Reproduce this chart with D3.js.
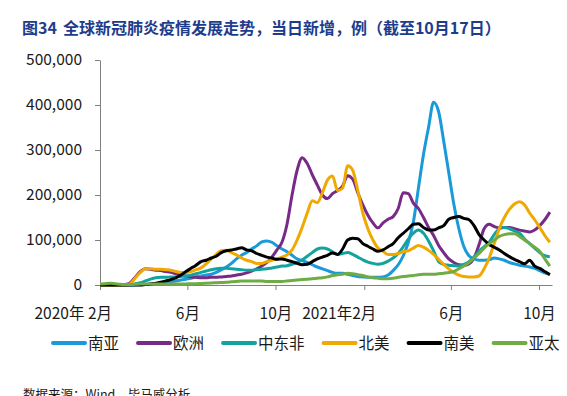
<!DOCTYPE html>
<html>
<head>
<meta charset="utf-8">
<script src="https://cdn.jsdelivr.net/npm/d3@7"></script>
<style>
  body { margin: 0; background: #fff; }
  text { font-family: "Noto Sans CJK SC", "Noto Sans", sans-serif; fill: #1a1a1a; }
</style>
</head>
<body>
<div class="chart"></div>
<script>
// weekly points, Feb 1 2020 -> Oct 16 2021 (daily new cases, thousands)
var weeks = d3.timeDay.range(new Date(2020, 1, 1), new Date(2021, 9, 17), 7);

var seriesNames = ["南亚", "欧洲", "中东非", "北美", "南美", "亚太"];
var seriesColors = ["#1b9ad9", "#772a86", "#13a39f", "#f0a900", "#000000", "#70ac46"];

var southAsia = [
  0, 0, 0, 0, 0, 0, 0, 0.3, 0.8, 1.5,
  2, 3, 4, 5.5, 7, 9, 11, 13, 15, 18,
  20, 22, 24, 28, 34, 40, 48, 58, 66, 72,
  80, 87, 96, 98, 95, 87, 80, 74, 66, 58,
  54, 50, 45, 40, 36, 32, 28, 26, 26, 24,
  21, 19, 18, 17, 17, 17, 18, 22, 32, 45,
  65, 95, 140, 215, 290, 350, 406, 385, 320, 250,
  180, 125, 85, 65, 58, 55, 55, 56, 60, 58,
  55, 50, 47, 44, 42, 40, 37, 32, 27, 23
];
var europe = [
  0, 0, 0, 0, 0.5, 1, 5, 18, 30, 36,
  35, 33, 32, 30, 28, 25, 22, 20, 18, 17,
  16, 16, 17, 17, 18, 19, 20, 22, 24, 27,
  31, 36, 42, 50, 62, 78, 95, 135, 200, 255,
  283, 270, 245, 222, 200, 192, 203, 210, 220, 243,
  235, 205, 178, 155, 138, 127, 138, 146, 152, 170,
  205, 203, 182, 170, 150, 128, 110, 88, 72, 58,
  50, 45, 44, 47, 60, 90, 125, 135, 130, 127,
  128, 128, 125, 122, 120, 118, 122, 132, 145, 162
];
var middleEastAfrica = [
  0, 0, 0, 0, 0, 0, 1, 3, 5, 9,
  13, 16, 17, 17, 18, 18, 19, 20, 22, 25,
  28, 31, 34, 36, 37, 37, 36, 35, 34, 33,
  33, 34, 35, 36, 38, 40, 42, 43, 46, 50,
  56, 64, 72, 80, 82, 80, 74, 68, 70, 72,
  68, 62, 56, 51, 48, 46, 48, 53, 60, 70,
  85, 102, 115, 122, 115, 98, 76, 52, 46, 44,
  43, 42, 46, 52, 62, 75, 85, 95, 112, 125,
  128, 125, 120, 115, 102, 92, 82, 72, 65, 63
];
var northAmerica = [
  0, 0, 0, 0, 0, 0, 3, 16, 28, 36,
  36, 35, 35, 34, 33, 30, 28, 28, 30, 34,
  38, 47, 58, 68, 76, 77, 72, 67, 60, 55,
  52, 48, 48, 52, 55, 58, 62, 67, 78, 100,
  128, 160, 187, 183, 205, 233, 242, 210, 215, 265,
  255, 210, 160, 125, 100, 82, 75, 68, 68, 70,
  74, 76, 82, 88, 84, 77, 68, 57, 46, 36,
  28, 22, 19, 18, 18, 20, 36, 60, 92, 125,
  150, 168, 180, 185, 178, 160, 145, 128, 110, 95
];
var southAmerica = [
  0, 0, 0, 0, 0, 0, 0, 0, 0, 1,
  2, 4, 6, 9, 12, 16, 22, 30, 37, 44,
  52, 55, 60, 64, 72, 76, 78, 80, 83, 78,
  76, 70, 66, 62, 60, 57, 58, 55, 52, 48,
  45, 46, 52, 58, 62, 66, 71, 68, 80, 100,
  104, 103, 92, 86, 80, 75, 78, 85, 92, 105,
  115, 125, 135, 136, 128, 122, 122, 127, 132, 146,
  150, 152, 148, 145, 132, 112, 100, 90, 84, 78,
  70, 63, 57, 52, 47, 55, 42, 37, 30, 23
];
var asiaPacific = [
  2, 3, 4, 3, 1.5, 1, 1, 1.5, 2, 2,
  2, 2, 2, 2, 2, 2, 2, 2.5, 3, 3,
  3.5, 4, 4.5, 5, 5.5, 6, 7, 8, 9, 9,
  9, 9, 9, 8, 8, 8, 8, 9, 10, 11,
  12, 13, 14, 15, 16, 18, 21, 23, 24, 26,
  25, 23, 21, 18, 16, 15, 14, 14, 15, 17,
  19, 20, 21, 23, 24, 24, 24, 25, 26, 28,
  30, 36, 42, 50, 60, 70, 82, 92, 100, 108,
  112, 114, 114, 108, 100, 92, 84, 75, 58, 42
];

var yTicks = [0, 100, 200, 300, 400, 500];
var xTickDates = [new Date(2020, 1, 1), new Date(2020, 5, 1), new Date(2020, 9, 1),
                  new Date(2021, 1, 1), new Date(2021, 5, 1), new Date(2021, 9, 1)];
var xTickLabels = ["2020年 2月", "6月", "10月", "2021年2月", "6月", "10月"];

var allSeries = [southAsia, europe, middleEastAfrica, northAmerica, southAmerica, asiaPacific];

var svgWidth = 567, svgHeight = 396;
var svg = d3.select(".chart").append("svg")
  .attr("width", svgWidth)
  .attr("height", svgHeight);

// title
var title = svg.append("text")
  .attr("x", 22)
  .attr("y", 34)
  .attr("font-size", 16)
  .attr("font-weight", "bold")
  .style("fill", "#1d3d8c");
title.append("tspan").text("图34");
title.append("tspan").attr("dx", 6).text("全球新冠肺炎疫情发展走势，当日新增，例（截至10月17日）");

var xScale = d3.scaleTime()
  .domain([new Date(2020, 1, 1), new Date(2021, 9, 19)])
  .range([100, 552]);

var yScale = d3.scaleLinear()
  .domain([0, 500])
  .range([285, 60]);

// y axis
var yAxis = svg.append("g")
  .attr("transform", "translate(100,0)")
  .call(d3.axisLeft(yScale).tickValues(yTicks).tickSize(5).tickSizeOuter(0).tickPadding(13)
    .tickFormat(d => d3.format(",")(d * 1000)));
yAxis.selectAll("text").attr("font-size", 15.5).style("font-family", "'Noto Sans CJK SC'");

// x axis
var xAxis = svg.append("g")
  .attr("transform", "translate(0,285)")
  .call(d3.axisBottom(xScale).tickValues(xTickDates).tickSize(5).tickSizeOuter(0).tickPadding(18)
    .tickFormat((d, i) => xTickLabels[i]));
xAxis.selectAll("text").attr("font-size", 15.5)
  .each(function(d, i) {
    if (xTickLabels[i].indexOf("年") >= 0) {
      d3.select(this).attr("text-anchor", "end").attr("dx", 11.5);
    }
  });

svg.selectAll(".domain, .tick line").attr("stroke", "#808080");

// lines
var line = d3.line()
  .x((d, i) => xScale(weeks[i]))
  .y(d => yScale(d))
  .curve(d3.curveMonotoneX);

svg.append("g").selectAll("path")
  .data(allSeries)
  .enter()
  .append("path")
  .attr("d", d => line(d))
  .attr("fill", "none")
  .attr("stroke", (d, i) => seriesColors[i])
  .attr("stroke-width", 3)
  .attr("stroke-linejoin", "round");

// legend
var legend = svg.append("g");
var lx = 53;
seriesNames.forEach(function(name, i) {
  legend.append("line")
    .attr("x1", lx).attr("x2", lx + 32)
    .attr("y1", 343).attr("y2", 343)
    .attr("stroke", seriesColors[i])
    .attr("stroke-width", 4)
    .attr("stroke-linecap", "round");
  var t = legend.append("text")
    .attr("x", lx + 35)
    .attr("y", 343)
    .attr("dy", "0.36em")
    .attr("font-size", 15.5)
    .text(name);
  lx += 35 + t.node().getComputedTextLength() + 19;
});

// source note
svg.append("text")
  .attr("x", 23)
  .attr("y", 399)
  .attr("font-size", 12.5)
  .text("数据来源：Wind，毕马威分析");
</script>
</body>
</html>
